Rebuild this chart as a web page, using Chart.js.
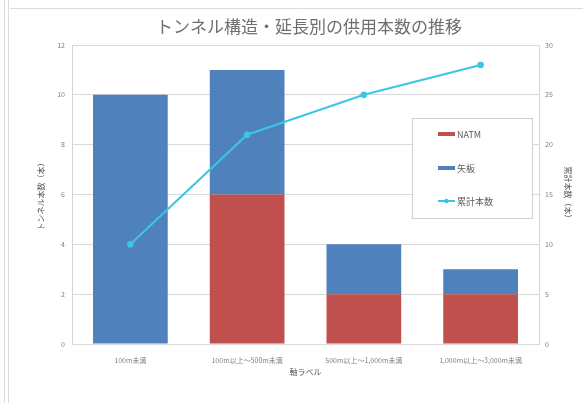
<!DOCTYPE html>
<html>
<head>
<meta charset="utf-8">
<script src="https://cdn.jsdelivr.net/npm/chart.js@4.4.1/dist/chart.umd.min.js"></script>
<style>
  html, body { margin: 0; padding: 0; background: #ffffff; }
  #wrap { width: 583px; height: 403px; position: relative; }
</style>
</head>
<body>
<div id="wrap"><canvas id="chart" width="583" height="403"></canvas></div>
<script>
// 延長区分
const categories = ['100m未満', '100m以上～500m未満', '500m以上～1,000m未満', '1,000m以上～3,000m未満'];
// トンネル本数（本）
const natm = [0, 6, 2, 2];
const yaita = [10, 5, 2, 1];
// 累計本数（本）
const cumulative = [10, 21, 25, 28];

const titleText = 'トンネル構造・延長別の供用本数の推移';
const leftTitle = 'トンネル本数（本）';
const rightTitle = '累計本数（本）';
const xTitle = '軸ラベル';

const RED = '#c0504d';
const BLUE = '#4f81bd';
const CYAN = '#3cc6e6';
const JP = '"Noto Sans CJK JP", "Noto Sans", sans-serif';

// Page frame, title and the boxed legend inside the plot
const decor = {
  id: 'decor',
  beforeDraw(chart) {
    const c = chart.ctx;
    c.save();
    c.strokeStyle = '#dcdcdc';
    c.lineWidth = 1;
    c.beginPath();
    c.moveTo(4.5, 0); c.lineTo(4.5, 403);
    c.moveTo(8.5, 0); c.lineTo(8.5, 403);
    c.moveTo(10, 8.5); c.lineTo(583, 8.5);
    c.stroke();
    // plot area border
    const a = chart.chartArea;
    c.strokeStyle = '#d4d4d4';
    c.strokeRect(Math.round(a.left) + 0.5, Math.round(a.top) + 0.5,
                 Math.round(a.right - a.left), Math.round(a.bottom - a.top));
    c.restore();
  },
  afterDraw(chart) {
    const c = chart.ctx;
    c.save();
    c.fillStyle = '#6e6e6e';
    c.font = '17px ' + JP;
    c.textAlign = 'center';
    c.textBaseline = 'middle';
    c.fillText(titleText, 309, 27);

    // legend box
    const bx = 412, by = 118, bw = 120, bh = 100;
    c.fillStyle = '#ffffff';
    c.fillRect(bx, by, bw, bh);
    c.strokeStyle = '#d0d0d0';
    c.lineWidth = 1;
    c.strokeRect(bx + 0.5, by + 0.5, bw, bh);

    const items = [
      { label: 'NATM', color: RED, kind: 'bar', y: 134 },
      { label: '矢板', color: BLUE, kind: 'bar', y: 168 },
      { label: '累計本数', color: CYAN, kind: 'line', y: 201 }
    ];
    c.font = '9px ' + JP;
    c.textAlign = 'left';
    items.forEach(it => {
      if (it.kind === 'bar') {
        c.fillStyle = it.color;
        c.fillRect(438, it.y - 2, 17, 4);
      } else {
        c.strokeStyle = it.color;
        c.lineWidth = 2;
        c.beginPath();
        c.moveTo(438, it.y); c.lineTo(455, it.y);
        c.stroke();
        c.fillStyle = it.color;
        c.beginPath();
        c.arc(446.5, it.y, 2.2, 0, Math.PI * 2);
        c.fill();
      }
      c.fillStyle = '#595959';
      c.fillText(it.label, 457, it.y + 1);
    });
    c.restore();
  }
};

const tickFont = { family: JP, size: 7 };
const axisTitleFont = { family: JP, size: 8 };

new Chart(document.getElementById('chart'), {
  type: 'bar',
  data: {
    labels: categories,
    datasets: [
      {
        type: 'line',
        label: '累計本数',
        data: cumulative,
        yAxisID: 'y1',
        borderColor: CYAN,
        backgroundColor: CYAN,
        borderWidth: 2,
        pointRadius: 2.3,
        pointHoverRadius: 2.3,
        tension: 0,
        order: 0
      },
      {
        label: 'NATM',
        data: natm,
        backgroundColor: RED,
        yAxisID: 'y',
        stack: 's',
        order: 1
      },
      {
        label: '矢板',
        data: yaita,
        backgroundColor: BLUE,
        yAxisID: 'y',
        stack: 's',
        order: 1
      }
    ]
  },
  options: {
    responsive: false,
    animation: false,
    devicePixelRatio: 1,
    layout: { padding: { top: 45, left: 32, right: 0, bottom: 26 } },
    datasets: { bar: { categoryPercentage: 1.0, barPercentage: 0.64 } },
    plugins: {
      legend: { display: false },
      title: { display: false },
      tooltip: { enabled: false }
    },
    scales: {
      x: {
        stacked: true,
        grid: { display: false },
        border: { display: false },
        ticks: { color: '#7f7f7f', font: tickFont, maxRotation: 0, autoSkip: false, padding: 4 },
        title: { display: true, text: xTitle, color: '#595959', font: axisTitleFont, padding: { top: 2, bottom: 0 } },
        afterFit(s) { s.height = 33; }
      },
      y: {
        stacked: true,
        position: 'left',
        min: 0, max: 12,
        ticks: { stepSize: 2, color: '#7f7f7f', font: tickFont, padding: 7 },
        grid: { color: '#d9d9d9', drawTicks: false },
        border: { display: false },
        title: { display: true, text: leftTitle, color: '#595959', font: axisTitleFont, padding: { top: 4, bottom: 4 } },
        afterFit(s) { s.width = 40; }
      },
      y1: {
        position: 'right',
        min: 0, max: 30,
        ticks: { stepSize: 5, color: '#7f7f7f', font: tickFont, padding: 6 },
        grid: { display: false, drawTicks: false },
        border: { display: false },
        title: { display: true, text: rightTitle, color: '#595959', font: axisTitleFont, padding: { top: 10, bottom: 4 } },
        afterFit(s) { s.width = 44; }
      }
    }
  },
  plugins: [decor]
});
</script>
</body>
</html>
